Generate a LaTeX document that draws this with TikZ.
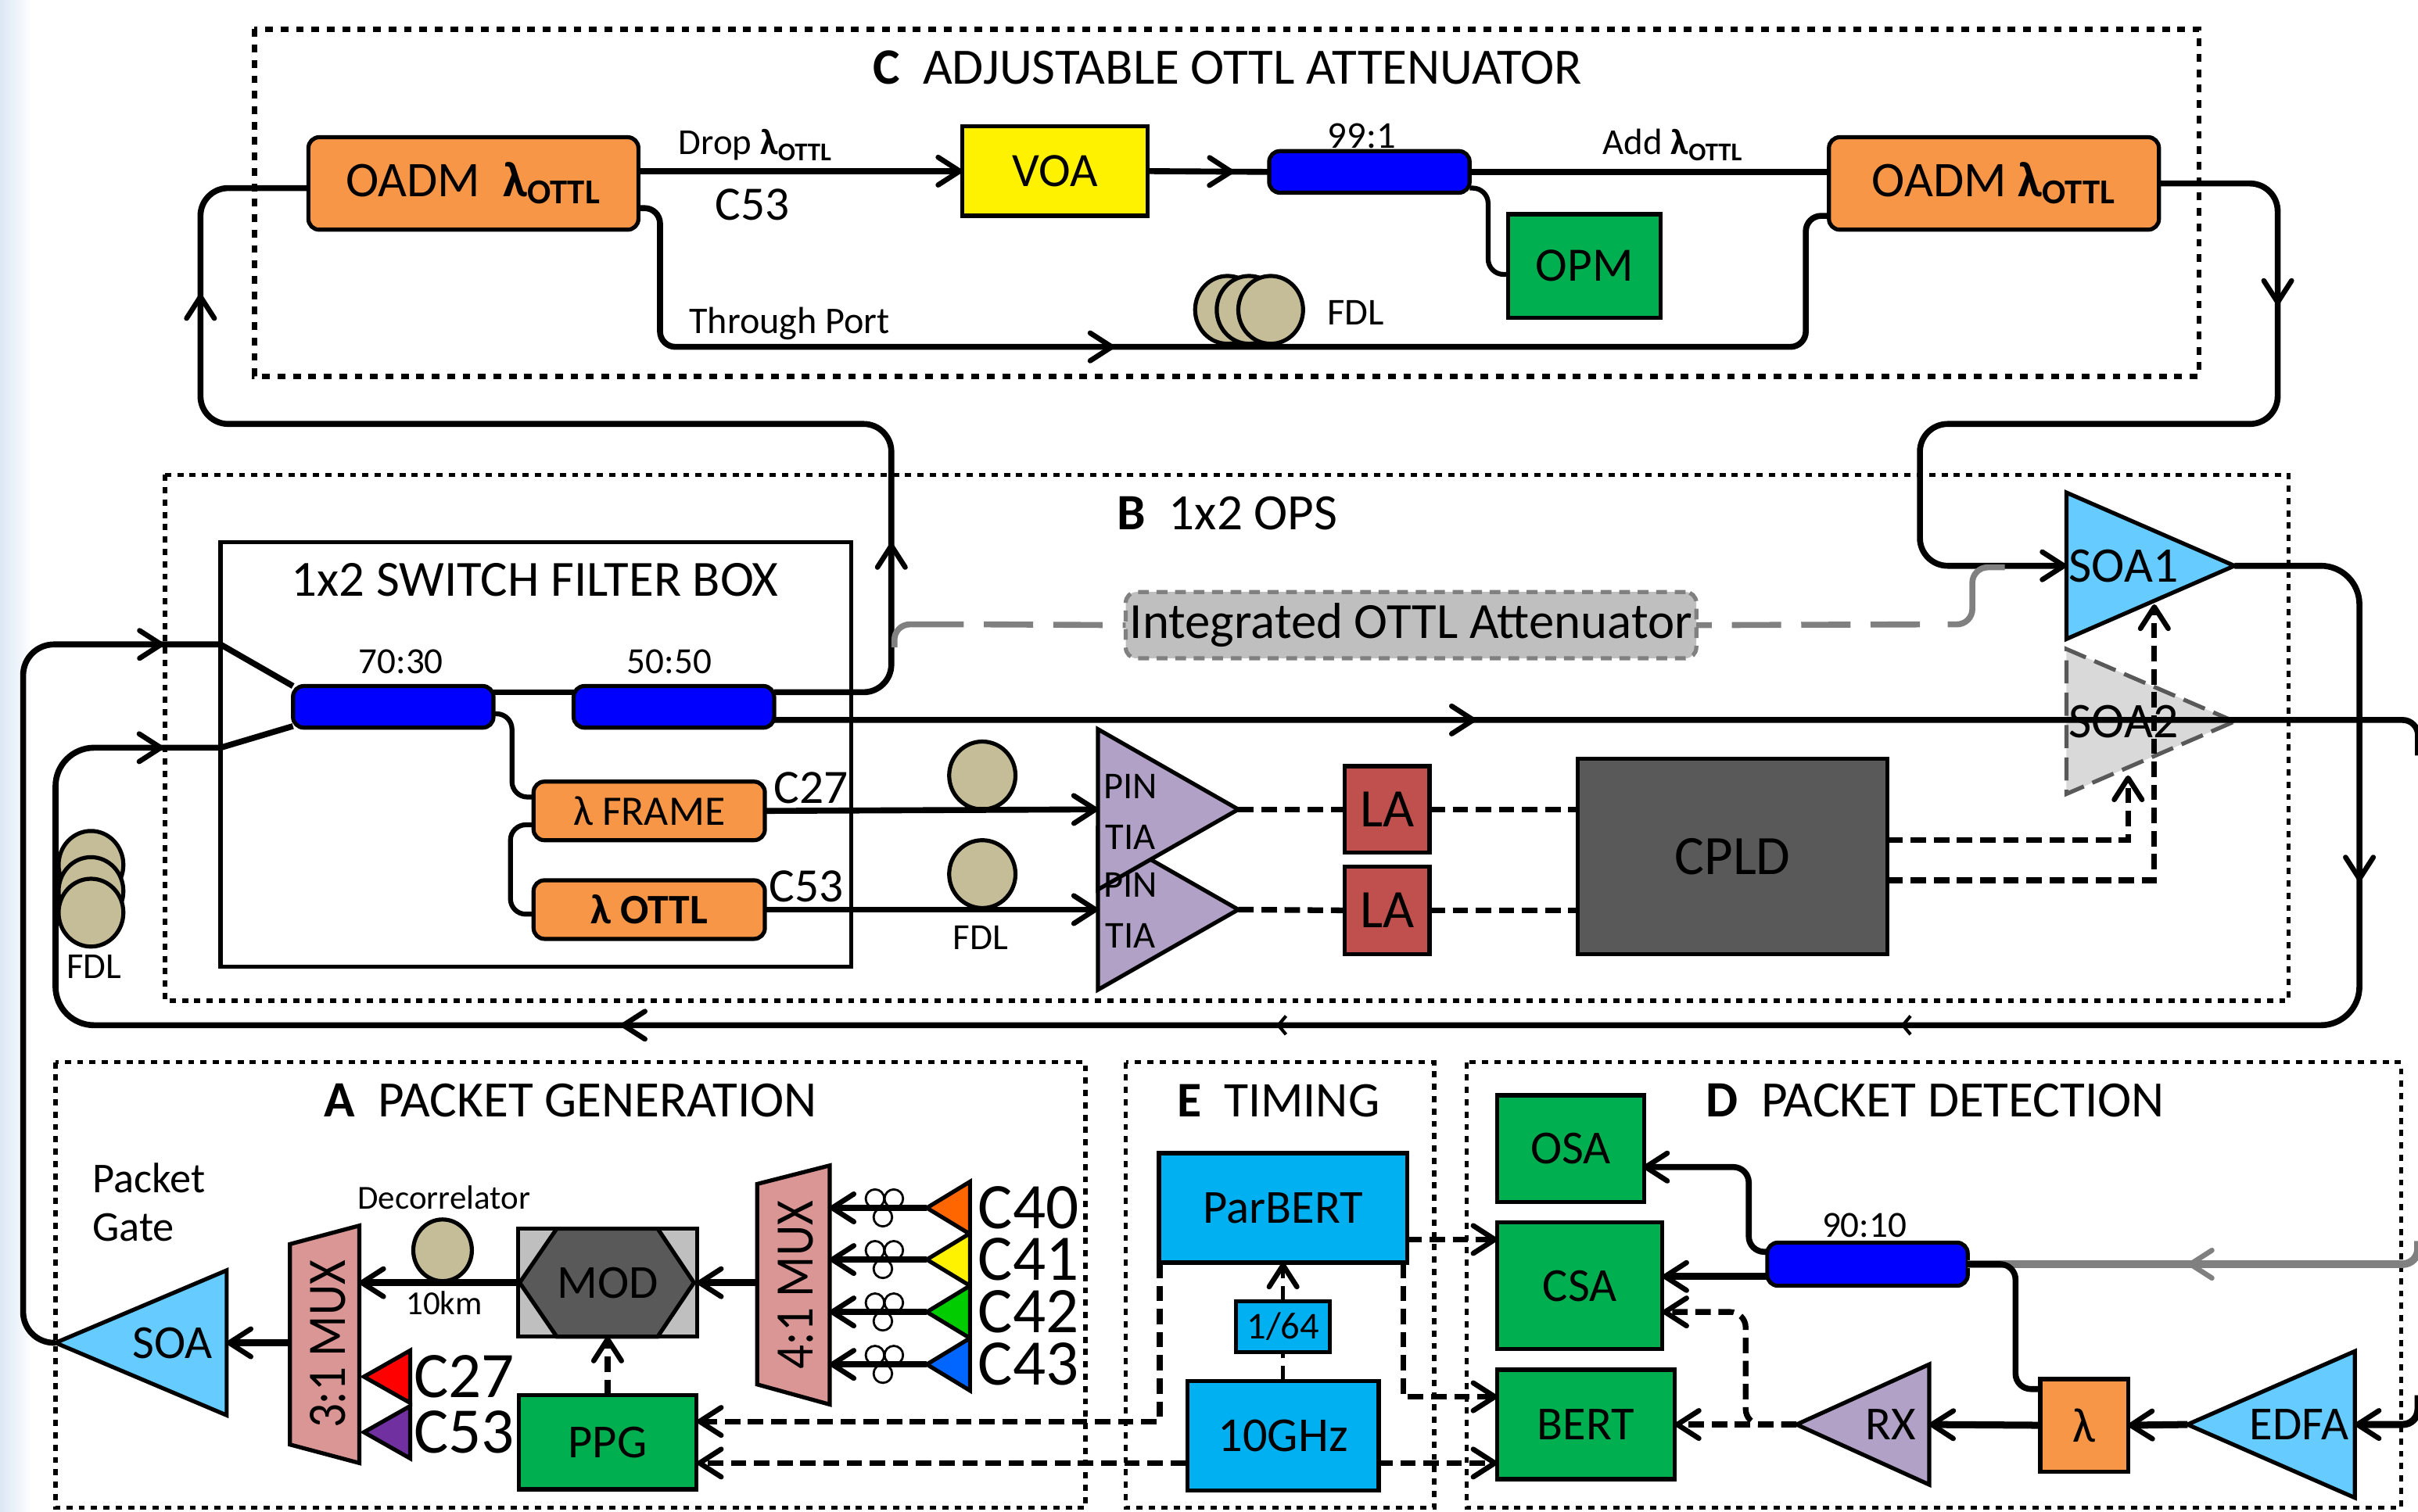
\documentclass[tikz,border=0pt]{standalone}
\usepackage{fontspec}
\setmainfont{Carlito}
\usetikzlibrary{arrows.meta,decorations.markings}
\definecolor{oadmorange}{HTML}{F79646}
\definecolor{splitblue}{HTML}{0000FF}
\definecolor{instgreen}{HTML}{00B050}
\definecolor{laserred}{HTML}{C0504D}
\definecolor{darkbox}{HTML}{595959}
\definecolor{greybox}{HTML}{BFBFBF}
\definecolor{greyline}{HTML}{808080}
\definecolor{coiltan}{HTML}{C4BD97}
\definecolor{soablue}{HTML}{66CCFF}
\definecolor{rxpurple}{HTML}{B2A1C7}
\definecolor{muxpink}{HTML}{D99694}
\definecolor{timeblue}{HTML}{00B0F0}
\definecolor{edgeblue}{HTML}{DCE7F5}
\newcommand{\lottl}{\textbf{λ\textsubscript{OTTL}}}
\tikzset{
  barb/.tip={Straight Barb[length=2.8mm,width=3.6mm,line width=1.9pt,round]},
  barbs/.tip={Straight Barb[length=1mm,width=2.4mm,line width=1.2pt]},
  midtip/.style={postaction={decorate,decoration={markings,mark=at position #1*0.2mm with {\arrow{barb}}}}},
  smalltip/.style={postaction={decorate,decoration={markings,mark=at position #1*0.2mm with {\arrow{barbs}}}}},
  fiber/.style={draw=black,line width=2.2pt},
  greyfiber/.style={draw=greyline,line width=2.2pt},
  sigline/.style={draw=black,line width=2.1pt,dash pattern=on 2mm off 1mm},
  frameC/.style={draw=black,line width=2pt,dash pattern=on 1mm off 1mm},
  frameB/.style={draw=black,line width=1.6pt,dash pattern=on 0.8mm off 0.8mm},
  wh/.style 2 args={minimum width=#1*0.2mm,minimum height=#2*0.2mm,inner sep=0pt,outer sep=0pt},
  txt/.style={font=\fontsize{#1pt}{#1pt}\selectfont,inner sep=0pt,outer sep=0pt},
  blockbox/.style={draw=black,line width=1.5pt},
  rnd/.style={blockbox,rounded corners=1.4mm},
  coil/.style={draw=black,line width=1.5pt,fill=coiltan},
  polloop/.style={draw=black,line width=0.8pt},
}
\begin{document}
\begin{tikzpicture}[x=0.2mm,y=-0.2mm]
\useasboundingbox (0,0) rectangle (1568,980.3);
\shade[left color=edgeblue,right color=white] (0,0) rectangle (21,980.3);
% --- helper: amplifier triangle, apex at (#2,#3), base at x=#4 ---------
\def\amp#1#2#3#4#5#6{%
  \draw[#6] (#2,#3) -- (#4,{#3-#5}) -- (#4,{#3+#5}) -- cycle;
  \coordinate (#1tip) at (#2,#3);
  \coordinate (#1base) at (#4,#3);}
% --- dotted frames -----------------------------------------------------
\draw[frameC] (165,19) rectangle (1426,244);
\draw[frameB] (107,308) rectangle (1484,649);
\draw[frameB] (36,689) rectangle (704,978);
\draw[frameB] (730,689) rectangle (930,978);
\draw[frameB] (951,689) rectangle (1557,978);
\draw[blockbox] (143,351.5) rectangle (552,627);
\node[txt=18.8] (titleC) at (796,44) {\textbf{C}\ \ ADJUSTABLE OTTL ATTENUATOR};
\node[txt=18.8] (titleB) at (796,333) {\textbf{B}\ \ 1x2 OPS};
\node[txt=18.8] (titleA) at (370,714) {\textbf{A}\ \ PACKET GENERATION};
\node[txt=18.4] (titleE) at (829,714) {\textbf{E}\ \ TIMING};
\node[txt=18.8] (titleD) at (1255,714) {\textbf{D}\ \ PACKET DETECTION};
\node[txt=18.7] (titleBox) at (347,376) {1x2 SWITCH FILTER BOX};
% --- C attenuator ------------------------------------------------------
\node[rnd,fill=oadmorange,wh={214}{60},txt=18.4] (oadmL) at (307,119) {OADM\ \ \lottl};
\node[rnd,fill=oadmorange,wh={214}{60},txt=18.4] (oadmR) at (1293,119) {OADM \lottl};
\node[blockbox,fill=yellow,wh={120}{58},txt=17.7] (voa) at (684,111) {VOA};
\node[rnd,fill=splitblue,wh={130}{27}] (c991) at (888,111.5) {};
\node[blockbox,fill=instgreen,wh={99}{67},txt=17.7] (opm) at (1027.5,172.5) {OPM};
\foreach \x in {796,810,824} \draw[coil] (\x,201) ellipse [x radius=21,y radius=22];
\node[txt=13.5] (dropLab) at (490,94) {Drop \lottl};
\node[txt=17.7] (c53Lab) at (488,133) {C53};
\node[txt=14] (c991Lab) at (883,88) {99:1};
\node[txt=13.5] (addLab) at (1085,94) {Add \lottl};
\node[txt=13.9] (thruLab) at (512,210) {Through Port};
\node[txt=14] (fdlC) at (879,203) {FDL};
\draw[fiber,-{barb}] (voa.west -| oadmL.east) -- (voa.west);
\draw[fiber,midtip=56] (voa.east) -- (c991.west);
\draw[fiber] (c991.east) -- (c991.east -| oadmR.west);
\coordinate (opmPort) at (978,178);
\coordinate (c991Tap) at (953,122);
\draw[fiber,line width=1.8pt,rounded corners=2mm] (c991Tap) -- (965,122) -- (965,178) -- (opmPort);
\coordinate (thruOut) at (414,135);
\coordinate (thruIn) at (1186,140);
\draw[fiber,rounded corners=2mm,midtip=390] (thruOut) -- (428,135) -- (428,225) -- (1171,225) -- (1171,140) -- (thruIn);
% --- B switch ----------------------------------------------------------
\node[rnd,fill=splitblue,wh={130}{27}] (c7030) at (255,458.5) {};
\node[rnd,fill=splitblue,wh={130}{27}] (c5050) at (437,458.5) {};
\node[txt=13.6] (c7030Lab) at (260,429) {70:30};
\node[txt=13.6] (c5050Lab) at (434,429) {50:50};
\node[rnd,fill=oadmorange,wh={150}{38},txt=15.5] (frameF) at (421,526) {λ FRAME};
\node[rnd,fill=oadmorange,wh={150}{38},txt=15.5] (ottlF) at (421,590) {\textbf{λ OTTL}};
\node[txt=17.7] (c27Lab) at (526,511) {C27};
\node[txt=17.7] (c53LabB) at (523,575) {C53};
\foreach \y in {561,578,592} \draw[coil] (59,\y) ellipse [x radius=21,y radius=22];
\node[txt=13.5] (fdlL) at (61,627) {FDL};
\draw[coil] (637,503) ellipse [x radius=21.5,y radius=22];
\draw[coil] (637,567) ellipse [x radius=21.5,y radius=22];
\node[txt=13.6] (fdlB) at (636,608) {FDL};
\amp{tiaB}{803}{590}{712}{52}{blockbox,fill=rxpurple}
\amp{tiaA}{803}{525}{712}{52}{blockbox,fill=rxpurple}
\node[blockbox,fill=laserred,wh={55}{56},txt=20] (laA) at (899.5,525) {LA};
\node[blockbox,fill=laserred,wh={55}{57},txt=20] (laB) at (899.5,590.5) {LA};
\node[blockbox,fill=darkbox,wh={201}{127},txt=20.5] (cpld) at (1123.5,555.5) {CPLD};
\node[rnd,draw=greyline,fill=greybox,dash pattern=on 1.4mm off 1mm,wh={370}{43},txt=18.7] (integ) at (915,405.5) {\raisebox{-1.5pt}{Integrated OTTL Attenuator}};
\amp{soaA}{1449}{367}{1340}{47.5}{blockbox,fill=soablue}
\amp{soaB}{1449}{468}{1340}{47}{draw=darkbox,line width=1.5pt,dash pattern=on 3mm off 1.2mm,fill=black!15}
\node[txt=18.4] (soaALab) at (1377,367) {SOA1};
\node[txt=18.4] (soaBLab) at (1377,468) {SOA2};
\node[txt=14] (pinA) at (733,510) {PIN};
\node[txt=14] (tiaAL) at (733,543) {TIA};
\node[txt=14] (pinB) at (733,574) {PIN};
\node[txt=14] (tiaBL) at (733,607) {TIA};
\coordinate (c7030Tap) at (320,463);
\coordinate (frameIn) at (346,517);
\draw[fiber,line width=1.8pt,rounded corners=2mm] (c7030Tap) -- (332,463) -- (332,517) -- (frameIn);
\coordinate (frameOut) at (346,535);
\coordinate (ottlIn) at (346,593);
\draw[fiber,line width=1.8pt,rounded corners=2mm] (frameOut) -- (331,535) -- (331,593) -- (ottlIn);
\draw[fiber,-{barb}] (frameF.east) -- (tiaAbase);
\draw[fiber,-{barb}] (ottlF.east) -- (tiaBbase);
\coordinate (c7030Out) at (320,449);
\coordinate (c5050In) at (372,449);
\draw[fiber] (c7030Out) -- (c5050In);
\draw[sigline] (tiaAtip) -- (laA.west);
\draw[sigline] (laA.east) -- (laA.east -| cpld.west);
\draw[sigline] (tiaBtip) -- (laB.west);
\draw[sigline] (laB.east) -- (laB.east -| cpld.west);
\coordinate (cpldOutA) at (1224,545);
\coordinate (cpldOutB) at (1224,571);
\coordinate (soaBDrive) at (1380,503);
\coordinate (soaADrive) at (1397,392);
\draw[sigline,-{barb}] (cpldOutA) -| (soaBDrive);
\draw[sigline,-{barb}] (cpldOutB) -| (soaADrive);
\coordinate (c5050Up) at (502,449);
\coordinate (c5050Low) at (502,467);
\coordinate (splitA) at (190,445);
\coordinate (splitB) at (190,471);
\coordinate (boxInA) at (143,418);
\coordinate (boxInB) at (143,485);
\draw[fiber] (boxInA) -- (splitA);
\draw[fiber] (boxInB) -- (splitB);
% --- fibre loops between the blocks ------------------------------------
\draw[fiber,rounded corners=3.6mm,midtip=165,midtip=759] (c5050Up) -- (578,449) -- (578,275) -- (130,275) -- (130,122) -- (oadmL.west |- 0,122);
\draw[fiber,rounded corners=3.6mm,midtip=148,-{barb}] (oadmR.east |- 0,119) -- (1477,119) -- (1477,275) -- (1245,275) -- (1245,367) -- (soaAbase);
\draw[fiber,rounded corners=5mm,midtip=275,smalltip=655,smalltip=1060,midtip=1485,midtip=2080] (soaAtip) -- (1530,367) -- (1530,665) -- (36,665) -- (36,485) -- (boxInB);
\draw[fiber,rounded corners=2mm,midtip=455] (c5050Low) -- (1568,467) -- (1568,490);
\draw[greyfiber,rounded corners=2mm] (580,420) -- (580,405) -- (625,405);
\draw[greyfiber,dash pattern=on 6.4mm off 2.6mm] (638,405) -- (integ.west);
\draw[greyfiber,dash pattern=on 6.4mm off 2.6mm,dash phase=4.4mm] (integ.east) -- (1250,405);
\draw[greyfiber,rounded corners=2mm] (1263,405) -- (1279,405) -- (1279,368) -- (1300,368);
% --- A packet generation -----------------------------------------------
\amp{soaG}{36}{871}{147}{47}{blockbox,fill=soablue}
\draw[fiber,rounded corners=4mm,midtip=548] (soaGtip) -- (15,871) -- (15,418) -- (boxInA);
\node[txt=17.5] (soaGLab) at (112,871) {SOA};
\node[anchor=west,txt=15.7] (packetLab) at (60,764) {Packet};
\node[anchor=west,txt=15.7] (gateLab) at (60,796) {Gate};
\node[txt=12.4] (decorLab) at (288,777) {Decorrelator};
\node[txt=12.4] (kmLab) at (288,845) {10km};
\draw[blockbox,fill=muxpink] (188,807) -- (233,795) -- (233,949) -- (188,937) -- cycle;
\draw[blockbox,fill=muxpink] (491,768) -- (538,756) -- (538,911) -- (491,898) -- cycle;
\node[rotate=90,txt=20] (muxG) at (212.5,872) {\scalebox{0.88}[1]{3:1 MUX}};
\node[rotate=90,txt=20] (muxD) at (516,833.5) {\scalebox{0.88}[1]{4:1 MUX}};
\coordinate (muxGout) at (188,871);
\coordinate (muxGin) at (233,832);
\coordinate (muxDout) at (491,832);
\draw[fiber,line width=2.6pt,-{barb}] (muxGout) -- (soaGbase);
\node[blockbox,fill=greybox,wh={116}{70}] (modbg) at (394,832) {};
\draw[blockbox,fill=darkbox] (337,832) -- (361,797) -- (426.5,797) -- (450,832) -- (426.5,867) -- (361,867) -- cycle;
\node[txt=17.5] (mod) at (394,832) {MOD};
\draw[coil] (287,811) ellipse [x radius=19,y radius=20];
\draw[fiber,line width=2.6pt,-{barb}] (modbg.west) -- (muxGin);
\draw[fiber,line width=2.6pt,-{barb}] (muxDout) -- (modbg.east);
\amp{c27}{236}{893}{266}{17}{blockbox,fill=red}
\amp{c53}{236}{929}{266}{17}{blockbox,fill={rgb,255:red,112;green,48;blue,160}}
\node[txt=24] (c27G) at (301,893) {C27};
\node[txt=24] (c53G) at (301,929) {C53};
\foreach \y/\col/\lab in {783.5/{rgb,255:red,255;green,102;blue,0}/C40,
                          817/yellow/C41,
                          851/{rgb,255:red,0;green,204;blue,0}/C42,
                          885/{rgb,255:red,0;green,102;blue,255}/C43} {
  \amp{\lab}{601}{\y}{629}{17}{blockbox,fill=\col}
  \node[txt=24] (lab\lab) at (667,\y) {\lab};
  \coordinate (in\lab) at (538,\y);
  \draw[polloop] (567.4,\y-6) circle [radius=6];
  \draw[polloop] (579.6,\y-6) circle [radius=6];
  \draw[polloop] (572.5,\y+6) circle [radius=6];
  \draw[fiber,-{barb}] (\lab tip) -- (in\lab);
}
\node[blockbox,fill=instgreen,wh={115}{61},txt=17.5] (ppg) at (394,935.5) {PPG};
\draw[sigline,-{barb}] (ppg.north) -- (modbg.south);
% --- E timing ----------------------------------------------------------
\node[blockbox,fill=timeblue,wh={161}{71},txt=17.5] (parbert) at (832,783.5) {ParBERT};
\node[blockbox,fill=timeblue,wh={61}{33},txt=14] (div64) at (832,860.5) {1/64};
\node[blockbox,fill=timeblue,wh={124}{71},txt=18] (tenG) at (832,931.5) {10GHz};
\draw[sigline,line width=1.3pt] (tenG.north) -- (div64.south);
\draw[sigline,line width=1.3pt,-{barb}] (div64.north) -- (parbert.south);
% --- D packet detection ------------------------------------------------
\node[blockbox,fill=instgreen,wh={95}{69},txt=17.5] (osa) at (1018.5,745) {OSA};
\node[blockbox,fill=instgreen,wh={107}{82},txt=17.5] (csa) at (1024.5,834) {CSA};
\node[blockbox,fill=instgreen,wh={115}{71},txt=17.5] (bert) at (1028.5,924) {BERT};
\node[rnd,fill=splitblue,wh={130}{28}] (c9010) at (1211,820) {};
\node[txt=13.6] (c9010Lab) at (1209,795) {90:10};
\node[blockbox,fill=oadmorange,wh={57}{60},txt=18] (filt) at (1351.5,924.5) {λ};
\amp{rx}{1165}{924}{1251}{39}{blockbox,fill=rxpurple}
\amp{edfa}{1418.5}{924}{1527}{47.5}{blockbox,fill=soablue}
\node[txt=17.5] (rxLab) at (1226,924) {RX};
\node[txt=17.5] (edfaLab) at (1491,924) {EDFA};
\coordinate (edfaEntry) at (1568,905);
\coordinate (greyEntry) at (1568,805);
\coordinate (c9010Up) at (1146,812);
\coordinate (c9010Low) at (1146,828);
\coordinate (osaIn) at (1065.5,757);
\coordinate (csaIn) at (1078,828);
\coordinate (csaMon) at (1078,851);
\coordinate (filtIn) at (1323,901);
\coordinate (c9010Out) at (1276,820);
\draw[greyfiber,line width=2.8pt,rounded corners=2mm,midtip=160] (greyEntry) -- (1568,820) -- (c9010Out);
\draw[fiber,rounded corners=2mm] (c9010Out) -- (1307,820) -- (1307,901) -- (filtIn);
\draw[fiber,rounded corners=2mm,-{barb}] (c9010Up) -- (1134,812) -- (1134,757) -- (osaIn);
\draw[fiber,line width=2.6pt,-{barb}] (c9010Low) -- (csaIn);
\draw[fiber,line width=2.6pt,-{barb}] (filt.west) -- (rxbase);
\draw[fiber,line width=2.6pt,-{barb}] (edfatip) -- (filt.east);
\draw[fiber,line width=2.6pt,rounded corners=2mm,-{barb}] (edfaEntry) -- (1568,924) -- (edfabase);
\draw[sigline,-{barb}] (rxtip) -- (bert.east);
\draw[sigline,rounded corners=2mm,-{barb}] (rxtip) -- (1132,924) -- (1132,851) -- (csaMon);
% --- clock lines -------------------------------------------------------
\coordinate (parOutA) at (912,804);
\coordinate (csaClk) at (971,804);
\coordinate (parOutB) at (910,819);
\coordinate (bertClk) at (971,906);
\coordinate (parOutC) at (752,819);
\coordinate (ppgClkA) at (452,922);
\coordinate (ppgClkB) at (452,949);
\coordinate (tenGL) at (769,949);
\coordinate (tenGR) at (893,949);
\coordinate (bertClkB) at (971,949);
\draw[sigline,-{barb}] (parOutA) -- (csaClk);
\draw[sigline,-{barb}] (parOutB) |- (bertClk);
\draw[sigline,-{barb}] (parOutC) |- (ppgClkA);
\draw[sigline,-{barb}] (tenGL) -- (ppgClkB);
\draw[sigline,-{barb}] (tenGR) -- (bertClkB);
\end{tikzpicture}
\end{document}
